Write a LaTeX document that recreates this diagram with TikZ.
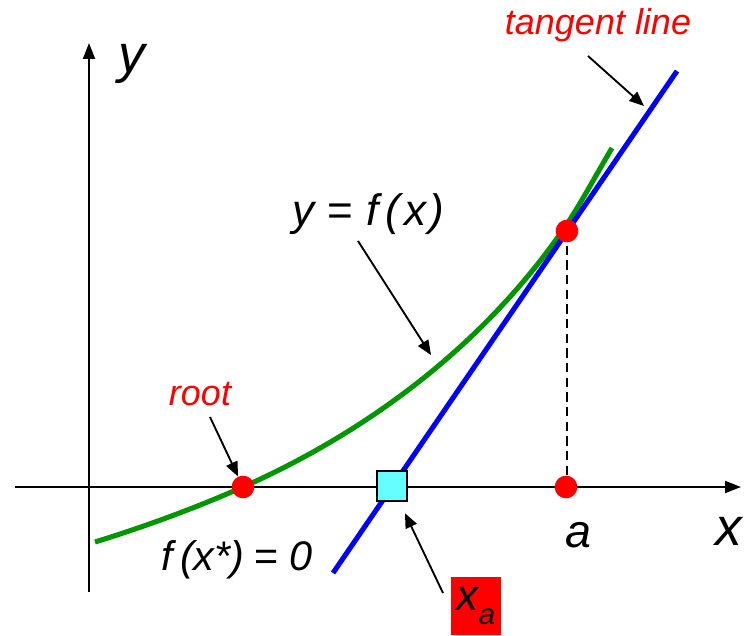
\documentclass[tikz,border=0pt]{standalone}
\usepackage{fontspec}
\setmainfont{Liberation Sans}
\usetikzlibrary{arrows.meta}
\definecolor{fgreen}{RGB}{0,150,0}
\definecolor{sqcyan}{RGB}{102,255,255}
\tikzset{dot/.style={circle,fill=red,inner sep=0pt,minimum size=17pt},
lbl/.style={font=\itshape\fontsize{#1}{#1}\selectfont,inner sep=0pt},
pointer/.style={line width=1.4pt,-{Triangle[length=11pt,width=9pt]}}}

\begin{document}
\begin{tikzpicture}[x=.75pt,y=-.75pt]
\useasboundingbox(0,0)rectangle(752,635);
\draw[line width=1.4pt,-{Triangle[length=12pt,width=9pt]}](15,487)--(741,487);
\draw[line width=1.4pt,-{Triangle[length=12pt,width=9pt]}](89,592)--(89,43);
\draw[fgreen,line width=3.8pt](95,542)..controls(150,525)and(200,506)..(243,487)
  ..controls(360,435)and(480,351)..(565,227)..controls(580,205)and(600,168)..(612,148);
\draw[blue,line width=3.8pt](333,573)--(677,71);
\draw[line width=1.2pt,dash pattern=on 7pt off 4pt](567,231)--(567,487);
\node[dot](root) at(243,487){};\node[dot](pt) at(567,231){};\node[dot](pa) at(566,487){};
\node[draw,fill=sqcyan,line width=1.5pt,minimum size=23pt,inner sep=0pt](xsq) at(392,486){};
\node[lbl=40](ylab) at(132,64){y};\node[lbl=40](xlab) at(729,531){x};\node[lbl=35](alab) at(578,535){a};
\node[lbl=33](flab) at(368,214){y\hspace{.3em}{\upshape=}\hspace{.3em}f\,(\hspace{.1em}x\hspace{.05em})};
\node[lbl=31](zlab) at(237,560){f\,(x*)\hspace{.25em}{\upshape=}\hspace{.25em}0};
\node[lbl=27,red](rootlab) at(200,394){root};
\node[lbl=27,red](tanlab) at(598,25){tangent line};
\node[fill=red,minimum width=37pt,minimum height=43pt,inner sep=0pt,font=\itshape\fontsize{33}{33}\selectfont](xa) at(476,606){x\raisebox{-.3em}{\fontsize{22}{22}\selectfont a}};
\coordinate(r0) at(210,417);\coordinate(f0) at(358,241);\coordinate(f1) at(431,355);
\coordinate(t0) at(588,56);\coordinate(t1) at(644,106);\coordinate(xa0) at(443,593);
\draw[pointer](r0)--(root);\draw[pointer](f0)--(f1);\draw[pointer](t0)--(t1);
\draw[pointer,shorten >=9pt](xa0)--(xsq);
\end{tikzpicture}
\end{document}
